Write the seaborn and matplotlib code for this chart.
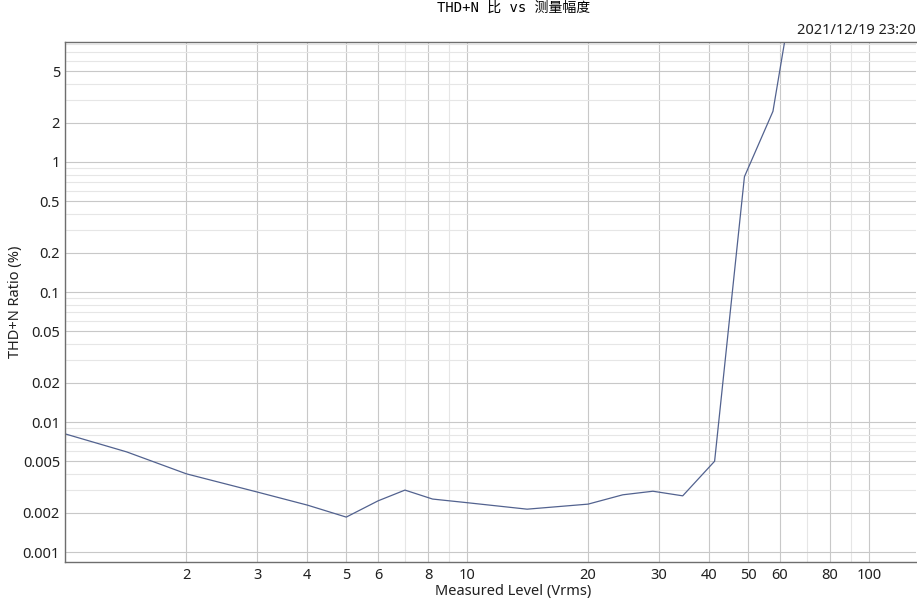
import numpy as np
import pandas as pd
import matplotlib
matplotlib.use('Agg')
import matplotlib.pyplot as plt
import matplotlib.ticker as mticker
import seaborn as sns

# valeurs
level_vrms = [1.0, 1.42, 2.0, 3.0, 4.0, 5.0, 6.0, 7.0, 8.2, 10.0, 14.1, 20.0, 24.4, 29.0, 34.4, 41.3, 49.0, 57.7, 65.0]
thdn_pct = [0.0081, 0.0059, 0.0040, 0.0029, 0.0023, 0.00186, 0.00248, 0.0030, 0.00256, 0.0024, 0.00214,
            0.00234, 0.00276, 0.00294, 0.00271, 0.0050, 0.77, 2.45, 22.0]

x_major = [2, 3, 4, 5, 6, 8, 10, 20, 30, 40, 50, 60, 80, 100]
x_grid_extra = [1, 7, 9, 70, 90]
y_major = [0.001, 0.002, 0.005, 0.01, 0.02, 0.05, 0.1, 0.2, 0.5, 1, 2, 5]
y_labels = ['0.001', '0.002', '0.005', '0.01', '0.02', '0.05', '0.1', '0.2', '0.5', '1', '2', '5']

title_txt = 'THD+N 比 vs 测量幅度'
date_txt = '2021/12/19 23:20'

df = pd.DataFrame({'level': level_vrms, 'thdn': thdn_pct})

sns.set_style('white')
plt.rcParams['font.family'] = ['Noto Sans', 'DejaVu Sans']

fig = plt.figure(figsize=(9.17, 6.03), dpi=100)
ax = fig.add_axes([0.0714, 0.068, 0.9275, 0.8628])

sns.lineplot(data=df, x='level', y='thdn', sort=False, estimator=None,
             color='#52628f', linewidth=0.9, ax=ax)

ax.set_xscale('log')
ax.set_yscale('log')
ax.set_xlim(1.0, 131)
ax.set_ylim(0.00084, 8.4)

# grille principale / secondaire
ax.xaxis.set_major_locator(mticker.FixedLocator(x_major))
ax.xaxis.set_major_formatter(mticker.FixedFormatter([str(v) for v in x_major]))
ax.xaxis.set_minor_locator(mticker.FixedLocator(x_grid_extra))
ax.xaxis.set_minor_formatter(mticker.NullFormatter())

y_minor = [m * 10.0 ** e for e in range(-3, 1) for m in (3, 4, 6, 7, 8, 9)]
ax.yaxis.set_major_locator(mticker.FixedLocator(y_major))
ax.yaxis.set_major_formatter(mticker.FixedFormatter(y_labels))
ax.yaxis.set_minor_locator(mticker.FixedLocator(y_minor))
ax.yaxis.set_minor_formatter(mticker.NullFormatter())

ax.grid(which='major', color='#c8c8c8', linewidth=0.8)
ax.grid(which='minor', color='#e6e6e6', linewidth=0.8)
ax.set_axisbelow(True)

ax.tick_params(which='both', length=0, labelsize=10.5, colors='#202020')
ax.tick_params(axis='x', pad=4)
ax.tick_params(axis='y', pad=4)

for side in ['left', 'bottom', 'top']:
    ax.spines[side].set_color('#6e6e6e')
    ax.spines[side].set_linewidth(1.0)
ax.spines['right'].set_visible(False)

ax.set_xlabel('Measured Level (Vrms)', fontsize=10.5, color='#202020')
ax.xaxis.set_label_coords(0.526, -0.043)
ax.set_ylabel('THD+N Ratio (%)', fontsize=10.5, color='#202020')
ax.yaxis.set_label_coords(-0.050, 0.5)

fig.text(514 / 917, 1 - 8 / 603, title_txt, ha='center', va='center', fontsize=10,
         family=['DejaVu Sans Mono', 'Noto Sans CJK SC'], color='#000000')
fig.text(916 / 917, 1 - 30 / 603, date_txt, ha='right', va='center', fontsize=10.5, color='#202020')

fig.savefig('out.png', dpi=100)
